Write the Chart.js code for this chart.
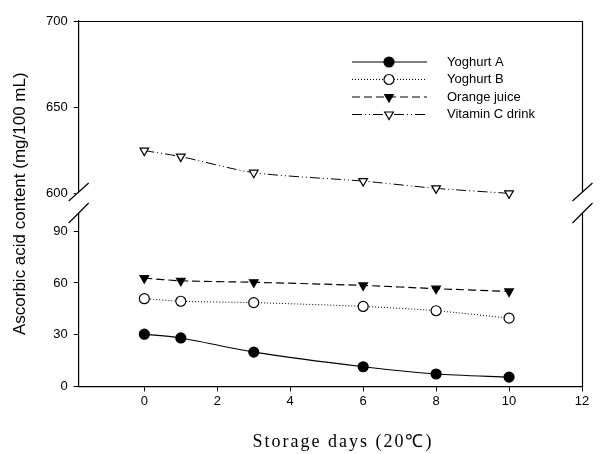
<!DOCTYPE html>
<html>
<head>
<meta charset="utf-8">
<script src="https://cdn.jsdelivr.net/npm/chart.js@4"></script>
<style>
  html, body { margin: 0; padding: 0; background: #fff; }
  #wrap { width: 601px; height: 454px; }
</style>
</head>
<body>
<div id="wrap"><canvas id="vitChart" width="601" height="454"></canvas></div>
<script>
// storage days (x) and measured ascorbic acid content (mg/100 mL)
var days = [0, 1, 3, 6, 8, 10];
var yoghurtA = [30.3, 28.1, 19.9, 11.4, 7.2, 5.4];
var yoghurtB = [50.9, 49.4, 48.6, 46.4, 43.9, 39.6];
var orangeJuice = [62.8, 61.3, 60.4, 58.6, 56.7, 55.1];
var vitaminC = [624.8, 621.3, 612.0, 607.1, 602.9, 600.0];

var seriesNames = ['Yoghurt A', 'Yoghurt B', 'Orange juice', 'Vitamin C drink'];
var xTicks = [0, 2, 4, 6, 8, 10, 12];
var lowTicks = [0, 30, 60, 90];
var highTicks = [600, 650, 700];

var sansFont = "'Liberation Sans', Arial, sans-serif";
var serifFont = "'Liberation Serif', 'Times New Roman', serif";

function toPoints(values) {
    return values.map(function (v, i) { return { x: days[i], y: v }; });
}

// frame, broken axis marks, axis titles and legend
var extrasPlugin = {
    id: 'extras',
    afterDraw: function (chart) {
        var ctx = chart.ctx;
        var area = chart.chartArea;
        var low = chart.scales.yLow;
        var breakY = low.top;

        ctx.save();
        ctx.strokeStyle = '#000';
        ctx.lineWidth = 1.2;
        // top and right frame
        ctx.beginPath();
        ctx.moveTo(area.left, area.top + 0.5);
        ctx.lineTo(area.right + 0.5, area.top + 0.5);
        ctx.lineTo(area.right + 0.5, area.bottom);
        ctx.stroke();

        // break marks on both vertical lines
        [area.left, area.right + 0.5].forEach(function (ax) {
            ctx.fillStyle = '#fff';
            ctx.fillRect(ax - 3, breakY - 10, 6, 21);
            ctx.beginPath();
            ctx.moveTo(ax - 10, breakY - 1);
            ctx.lineTo(ax + 10, breakY - 19);
            ctx.moveTo(ax - 10, breakY + 21);
            ctx.lineTo(ax + 10, breakY + 1);
            ctx.stroke();
        });

        // x axis title
        ctx.fillStyle = '#000';
        ctx.font = '18px ' + serifFont;
        ctx.textAlign = 'center';
        ctx.textBaseline = 'middle';
        ctx.letterSpacing = '2px';
        ctx.fillText('Storage days (20\u2103)', 343, area.bottom + 56);
        ctx.letterSpacing = '0px';

        // y axis title, centred over the whole axis
        ctx.font = '17px ' + sansFont;
        ctx.translate(20, (area.top + area.bottom) / 2);
        ctx.rotate(-Math.PI / 2);
        ctx.fillText('Ascorbic acid content (mg/100 mL)', 0, 0);
        ctx.restore();

        // legend
        ctx.save();
        var rowY = 62;
        chart.data.datasets.forEach(function (ds) {
            ctx.strokeStyle = '#000';
            ctx.lineWidth = 1.2;
            ctx.setLineDash(ds.borderDash || []);
            ctx.beginPath();
            ctx.moveTo(352, rowY);
            ctx.lineTo(427, rowY);
            ctx.stroke();
            ctx.setLineDash([]);
            ctx.fillStyle = ds.pointBackgroundColor;
            ctx.strokeStyle = '#000';
            Chart.helpers.drawPoint(ctx, {
                pointStyle: ds.pointStyle,
                radius: ds.pointRadius,
                rotation: ds.pointRotation || 0,
                borderWidth: 1.2
            }, 389, rowY);
            ctx.fillStyle = '#000';
            ctx.font = '13px ' + sansFont;
            ctx.textAlign = 'left';
            ctx.textBaseline = 'middle';
            ctx.fillText(ds.label, 447, rowY);
            rowY += 17.5;
        });
        ctx.restore();
    }
};

var chartElement = document.getElementById('vitChart');

var vitChart = new Chart(chartElement, {
    type: 'line',
    data: {
        datasets: [{
            label: seriesNames[0],
            data: toPoints(yoghurtA),
            yAxisID: 'yLow',
            borderColor: '#000',
            borderWidth: 1.2,
            borderDash: [],
            pointStyle: 'circle',
            pointRadius: 5,
            pointBackgroundColor: '#000',
            pointBorderColor: '#000',
            tension: 0.25
        }, {
            label: seriesNames[1],
            data: toPoints(yoghurtB),
            yAxisID: 'yLow',
            borderColor: '#000',
            borderWidth: 1,
            borderDash: [1, 2],
            pointStyle: 'circle',
            pointRadius: 5,
            pointBackgroundColor: '#fff',
            pointBorderColor: '#000',
            pointBorderWidth: 1.2,
            tension: 0.25
        }, {
            label: seriesNames[2],
            data: toPoints(orangeJuice),
            yAxisID: 'yLow',
            borderColor: '#000',
            borderWidth: 1.2,
            borderDash: [8, 4],
            pointStyle: 'triangle',
            pointRotation: 180,
            pointRadius: 5,
            pointBackgroundColor: '#000',
            pointBorderColor: '#000',
            tension: 0.25
        }, {
            label: seriesNames[3],
            data: toPoints(vitaminC),
            yAxisID: 'yHigh',
            borderColor: '#000',
            borderWidth: 1,
            borderDash: [10, 3, 1, 3, 1, 3],
            pointStyle: 'triangle',
            pointRotation: 180,
            pointRadius: 5,
            pointBackgroundColor: '#fff',
            pointBorderColor: '#000',
            pointBorderWidth: 1.2,
            tension: 0.25
        }]
    },
    options: {
        responsive: false,
        animation: false,
        layout: {
            padding: { left: 40, right: 19, top: 21, bottom: 43 }
        },
        plugins: {
            legend: { display: false },
            tooltip: { enabled: false }
        },
        scales: {
            x: {
                type: 'linear',
                min: -1.8,
                max: 12,
                afterBuildTicks: function (axis) {
                    axis.ticks = xTicks.map(function (v) { return { value: v }; });
                },
                border: { display: true, color: '#000', width: 1.2 },
                grid: { display: true, drawOnChartArea: false, drawTicks: true, tickLength: 5, color: '#000' },
                ticks: { color: '#000', font: { family: sansFont, size: 13 }, padding: 2, maxRotation: 0 }
            },
            yLow: {
                type: 'linear',
                position: 'left',
                stack: 'yaxis',
                stackWeight: 107,
                min: 0,
                max: 107,
                afterBuildTicks: function (axis) {
                    axis.ticks = lowTicks.map(function (v) { return { value: v }; });
                },
                border: { display: true, color: '#000', width: 1.2 },
                grid: { display: true, drawOnChartArea: false, drawTicks: true, tickLength: 5, color: '#000' },
                ticks: { color: '#000', font: { family: sansFont, size: 13 }, padding: 6 }
            },
            yHigh: {
                type: 'linear',
                position: 'left',
                stack: 'yaxis',
                stackWeight: 105,
                min: 595,
                max: 700,
                afterBuildTicks: function (axis) {
                    axis.ticks = highTicks.map(function (v) { return { value: v }; });
                },
                border: { display: true, color: '#000', width: 1.2 },
                grid: { display: true, drawOnChartArea: false, drawTicks: true, tickLength: 5, color: '#000' },
                ticks: { color: '#000', font: { family: sansFont, size: 13 }, padding: 6 }
            }
        }
    },
    plugins: [extrasPlugin]
});
</script>
</body>
</html>
